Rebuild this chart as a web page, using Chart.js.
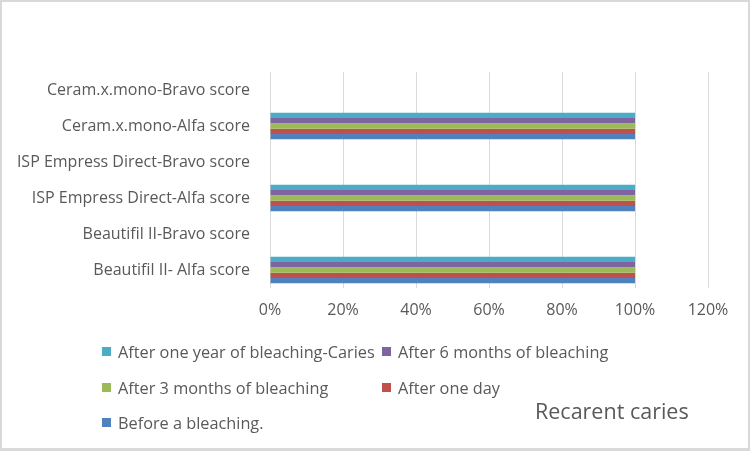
<!DOCTYPE html>
<html>
<head>
<meta charset="utf-8">
<script src="https://cdn.jsdelivr.net/npm/chart.js@4.4.0/dist/chart.umd.min.js"></script>
<style>
  html, body { margin: 0; padding: 0; background: #fff; }
  #wrap { position: relative; width: 752px; height: 452px; overflow: hidden; font-family: "Open Sans", sans-serif; color: #595959; }
  #frame { position: absolute; left: 0; top: 0; width: 746px; height: 446px; border: 2px solid #d9d9d9; border-bottom-width: 3px; pointer-events: none; }
  #c { position: absolute; left: 0; top: 0; }
  .leg { position: absolute; font-size: 16.3px; line-height: 20px; white-space: nowrap; }
  .leg i { position: absolute; left: -16px; top: 5px; width: 9px; height: 9px; }
  #title { position: absolute; left: 535px; top: 398px; font-size: 21.5px; line-height: 26px; white-space: nowrap; }
</style>
</head>
<body>
<div id="wrap">
  <canvas id="c" width="752" height="452"></canvas>
  <div id="legend"></div>
  <div id="title">Recarent caries</div>
  <div id="frame"></div>
</div>
<script>
const categories = [
  'Ceram.x.mono-Bravo score',
  'Ceram.x.mono-Alfa score',
  'ISP Empress Direct-Bravo score',
  'ISP Empress Direct-Alfa score',
  'Beautifil II-Bravo score',
  'Beautifil II- Alfa score'
];
const seriesNames = [
  'After one year of bleaching-Caries',
  'After 6 months of bleaching',
  'After 3 months of bleaching',
  'After one day',
  'Before a bleaching.'
];
const afterOneYear   = [0, 1, 0, 1, 0, 1];
const afterSixMonths = [0, 1, 0, 1, 0, 1];
const afterThreeMonths = [0, 1, 0, 1, 0, 1];
const afterOneDay    = [0, 1, 0, 1, 0, 1];
const beforeBleaching = [0, 1, 0, 1, 0, 1];
const tickValues = [0, 0.2, 0.4, 0.6, 0.8, 1.0, 1.2];

const colors = ['#4BACC6', '#8064A2', '#9BBB59', '#C0504D', '#4F81BD'];
const seriesData = [afterOneYear, afterSixMonths, afterThreeMonths, afterOneDay, beforeBleaching];

const FONT = { family: '"Open Sans", sans-serif', size: 16 };

const chart = new Chart(document.getElementById('c'), {
  type: 'bar',
  data: {
    labels: categories,
    datasets: seriesNames.map((n, i) => ({
      label: n,
      data: seriesData[i],
      backgroundColor: colors[i],
      borderWidth: 0,
      barPercentage: 1,
      categoryPercentage: 0.74
    }))
  },
  options: {
    indexAxis: 'y',
    responsive: false,
    animation: false,
    devicePixelRatio: 1,
    layout: { padding: { top: 72, right: 44, left: 0, bottom: 0 } },
    plugins: { legend: { display: false }, tooltip: { enabled: false }, title: { display: false } },
    scales: {
      x: {
        min: 0, max: 1.2,
        afterBuildTicks: (s) => { s.ticks = tickValues.map(v => ({ value: v })); },
        afterFit: (s) => { s.height = 164; },
        grid: { color: '#d9d9d9', lineWidth: 1, drawTicks: false },
        border: { display: false },
        ticks: {
          color: '#595959', font: FONT, padding: 13,
          callback: (v) => Math.round(v * 100) + '%'
        }
      },
      y: {
        afterFit: (s) => { s.width = 270; },
        grid: { display: false, drawTicks: false },
        border: { display: false },
        ticks: { color: '#595959', font: FONT, padding: 20 }
      }
    }
  }
});

// HTML legend built from chart datasets (Excel-style 2-column layout)
const legendPos = [
  { x: 118, y: 342 },
  { x: 398, y: 342 },
  { x: 118, y: 378 },
  { x: 398, y: 378 },
  { x: 118, y: 413 }
];
const legEl = document.getElementById('legend');
chart.data.datasets.forEach((ds, i) => {
  const d = document.createElement('div');
  d.className = 'leg';
  d.style.left = legendPos[i].x + 'px';
  d.style.top = legendPos[i].y + 'px';
  const sw = document.createElement('i');
  sw.style.background = ds.backgroundColor;
  d.appendChild(sw);
  d.appendChild(document.createTextNode(ds.label));
  legEl.appendChild(d);
});
</script>
</body>
</html>
